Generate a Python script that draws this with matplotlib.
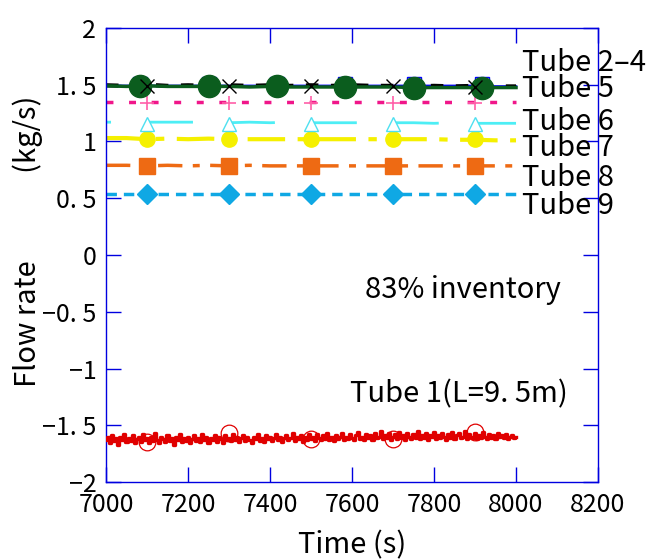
import numpy as np
import matplotlib
matplotlib.use("Agg")
import matplotlib.pyplot as plt

plt.rcParams['font.family'] = ['Noto Sans CJK JP', 'DejaVu Sans']

# time axis of the steady tubes (every 50 s)
t_line = [7000, 7050, 7100, 7150, 7200, 7250, 7300, 7350, 7400, 7450, 7500,
          7550, 7600, 7650, 7700, 7750, 7800, 7850, 7900, 7950, 8000]

tube2 = [1.49, 1.49, 1.49, 1.49, 1.49, 1.49, 1.49, 1.49, 1.49, 1.49, 1.49,
         1.49, 1.49, 1.49, 1.49, 1.49, 1.49, 1.49, 1.49, 1.485, 1.485]
tube3 = [1.495, 1.49, 1.50, 1.49, 1.495, 1.49, 1.495, 1.49, 1.495, 1.49, 1.495,
         1.49, 1.495, 1.49, 1.49, 1.485, 1.49, 1.485, 1.49, 1.485, 1.485]
tube4 = [1.49, 1.485, 1.49, 1.485, 1.485, 1.485, 1.485, 1.48, 1.485, 1.48, 1.48,
         1.48, 1.48, 1.48, 1.48, 1.475, 1.475, 1.475, 1.475, 1.475, 1.475]
tube5 = [1.35, 1.35, 1.35, 1.35, 1.35, 1.35, 1.35, 1.35, 1.35, 1.35, 1.35,
         1.35, 1.35, 1.35, 1.35, 1.35, 1.35, 1.35, 1.35, 1.35, 1.35]
tube6 = [1.17, 1.17, 1.17, 1.17, 1.17, 1.17, 1.165, 1.17, 1.165, 1.17, 1.165,
         1.165, 1.165, 1.165, 1.165, 1.165, 1.16, 1.165, 1.16, 1.16, 1.16]
tube7 = [1.03, 1.03, 1.02, 1.025, 1.02, 1.025, 1.02, 1.02, 1.02, 1.02, 1.02,
         1.02, 1.02, 1.02, 1.02, 1.02, 1.02, 1.015, 1.015, 1.01, 1.01]
tube8 = [0.79, 0.79, 0.785, 0.79, 0.785, 0.79, 0.785, 0.79, 0.785, 0.785, 0.785,
         0.785, 0.785, 0.785, 0.785, 0.785, 0.785, 0.785, 0.785, 0.785, 0.785]
tube9 = [0.54, 0.54, 0.54, 0.54, 0.54, 0.54, 0.54, 0.54, 0.54, 0.54, 0.54,
         0.54, 0.54, 0.54, 0.54, 0.54, 0.54, 0.54, 0.54, 0.54, 0.54]

# marker samples
t_mk = [7100, 7300, 7500, 7700, 7900]
t_mk6 = [7083, 7250, 7417, 7583, 7750, 7917]
tube2_mk = [1.505, 1.505, 1.505, 1.505, 1.505, 1.505]
tube3_mk = [1.49, 1.49, 1.49, 1.49, 1.48]
tube4_mk = [1.49, 1.49, 1.485, 1.48, 1.475, 1.475]
tube5_mk = [1.34, 1.34, 1.34, 1.34, 1.34]
tube6_mk = [1.15, 1.15, 1.15, 1.15, 1.15]
tube7_mk = [1.02, 1.02, 1.02, 1.02, 1.02]
tube8_mk = [0.785, 0.785, 0.785, 0.785, 0.785]
tube9_mk = [0.54, 0.54, 0.54, 0.54, 0.54]

# Tube 1 (reverse flow), every 5 s
t_red = np.arange(7000, 8001, 5)
tube1 = [-1.63, -1.60, -1.66, -1.59, -1.64, -1.61, -1.67, -1.60, -1.63, -1.58,
         -1.65, -1.61, -1.64, -1.59, -1.66, -1.62, -1.60, -1.65, -1.58, -1.63,
         -1.61, -1.66, -1.60, -1.64, -1.57, -1.63, -1.66, -1.60, -1.62, -1.65,
         -1.59, -1.64, -1.61, -1.67, -1.60, -1.63, -1.58, -1.65, -1.61, -1.64,
         -1.60, -1.66, -1.62, -1.59, -1.64, -1.61, -1.65, -1.58, -1.63, -1.60,
         -1.66, -1.61, -1.63, -1.59, -1.65, -1.60, -1.62, -1.66, -1.59, -1.63,
         -1.61, -1.64, -1.58, -1.63, -1.60, -1.65, -1.61, -1.59, -1.64, -1.60,
         -1.63, -1.66, -1.60, -1.62, -1.58, -1.64, -1.61, -1.65, -1.59, -1.62,
         -1.60, -1.64, -1.61, -1.58, -1.63, -1.60, -1.65, -1.61, -1.59, -1.63,
         -1.61, -1.57, -1.64, -1.60, -1.62, -1.59, -1.65, -1.60, -1.63, -1.58,
         -1.62, -1.60, -1.64, -1.58, -1.61, -1.63, -1.59, -1.62, -1.57, -1.63,
         -1.60, -1.64, -1.59, -1.62, -1.60, -1.57, -1.63, -1.60, -1.62, -1.58,
         -1.61, -1.63, -1.59, -1.56, -1.62, -1.60, -1.63, -1.58, -1.61, -1.59,
         -1.63, -1.57, -1.61, -1.60, -1.55, -1.62, -1.59, -1.61, -1.57, -1.63,
         -1.60, -1.58, -1.62, -1.56, -1.61, -1.59, -1.63, -1.57, -1.60, -1.62,
         -1.58, -1.61, -1.55, -1.62, -1.59, -1.61, -1.57, -1.63, -1.59, -1.60,
         -1.56, -1.62, -1.59, -1.61, -1.57, -1.60, -1.63, -1.58, -1.61, -1.56,
         -1.62, -1.59, -1.57, -1.61, -1.60, -1.55, -1.62, -1.58, -1.60, -1.61,
         -1.57, -1.62, -1.59, -1.61, -1.56, -1.60, -1.62, -1.58, -1.61, -1.59,
         -1.62, -1.57, -1.60, -1.59, -1.61, -1.58, -1.62, -1.60, -1.59, -1.61,
         -1.60]
tube1_mk = [-1.65, -1.57, -1.62, -1.62, -1.56]

tube_labels = ["Tube 2\u20134", "Tube 5", "Tube 6", "Tube 7", "Tube 8", "Tube 9"]
tube_label_y = [1.69, 1.46, 1.17, 0.94, 0.68, 0.43]

xticks = [7000, 7200, 7400, 7600, 7800, 8000, 8200]
yticks = [2, 1.5, 1, 0.5, 0, -0.5, -1, -1.5, -2]
ytick_labels = ["2", "1. 5", "1", "0. 5", "0", "\u22120. 5", "\u22121", "\u22121. 5", "\u22122"]

fig = plt.figure(figsize=(6.52, 5.59), dpi=100)
ax = fig.add_axes([0.1626, 0.1377, 0.7546, 0.8123])

# Tube 1
ax.plot(t_red, tube1, color="#e00000", lw=2.4, drawstyle="steps-mid", zorder=3)
ax.plot(t_mk, tube1_mk, ls="none", marker="o", ms=12, mfc="none", mec="#e00000", mew=0.9, zorder=3)

# Tube 9
ax.plot(t_line, tube9, color="#0fa8e4", lw=2.5, ls=(0, (3, 2)))
ax.plot(t_mk, tube9_mk, ls="none", marker="D", ms=10, color="#0fa8e4")
# Tube 8
ax.plot(t_line, tube8, color="#ee6a13", lw=2.5, ls=(0, (7, 3, 2, 3)))
ax.plot(t_mk, tube8_mk, ls="none", marker="s", ms=12, color="#ee6a13")
# Tube 7
ax.plot(t_line, tube7, color="#f5f000", lw=3, ls=(0, (9, 3, 2, 3)))
ax.plot(t_mk, tube7_mk, ls="none", marker="o", ms=11, color="#f5f000")
# Tube 6
ax.plot(t_line, tube6, color="#4deef5", lw=2, ls=(14.4, (16.2, 13.3)))
ax.plot(t_mk, tube6_mk, ls="none", marker="^", ms=10, mfc="white", mec="#4de0f0", mew=1)
# Tube 5
ax.plot(t_line, tube5, color="#f0168a", lw=2.5, ls=(0, (2, 4.5)))
ax.plot(t_mk, tube5_mk, ls="none", marker="+", ms=10, mec="#ff5fa8", mew=1.2)
# Tube 2-4
ax.plot(t_line, tube2, color="#0000ff", lw=1.8)
ax.plot(t_mk6, tube2_mk, ls="none", marker="s", ms=10, mfc="none", mec="#0000ff", mew=1)
ax.plot(t_line, tube3, color="#000000", lw=3, ls=(0, (3, 3)))
ax.plot(t_line, tube4, color="#0b5d1e", lw=2.5)
ax.plot(t_mk6, tube4_mk, ls="none", marker="o", ms=16, color="#0b5d1e")
ax.plot(t_mk, tube3_mk, ls="none", marker="x", ms=10, mec="#000000", mew=1)

for lab, yy in zip(tube_labels, tube_label_y):
    ax.text(8015, yy, lab, fontsize=21, ha="left", va="center", clip_on=False, zorder=10)

ax.text(7632, -0.31, "83% inventory", fontsize=21, ha="left", va="center")
ax.text(7595, -1.23, "Tube 1(L=9. 5m)", fontsize=21, ha="left", va="center")

ax.set_xlim(7000, 8200)
ax.set_ylim(-2, 2)
ax.set_xticks(xticks)
ax.set_xticklabels([str(v) for v in xticks])
ax.set_yticks(yticks)
ax.set_yticklabels(ytick_labels)
ax.tick_params(direction="in", length=11, width=1, color="#0000e0", labelsize=18,
               top=True, right=True, pad=7)

for sp in ax.spines.values():
    sp.set_color("#0000e0")
    sp.set_linewidth(1)

ax.set_xlabel("Time (s)", fontsize=21, labelpad=9)
ax.set_ylabel("Flow rate\u3000\u3000\u3000(kg/s)", fontsize=21)
ax.yaxis.set_label_coords(-0.128, 0.53)

fig.savefig("out.png", dpi=100)
